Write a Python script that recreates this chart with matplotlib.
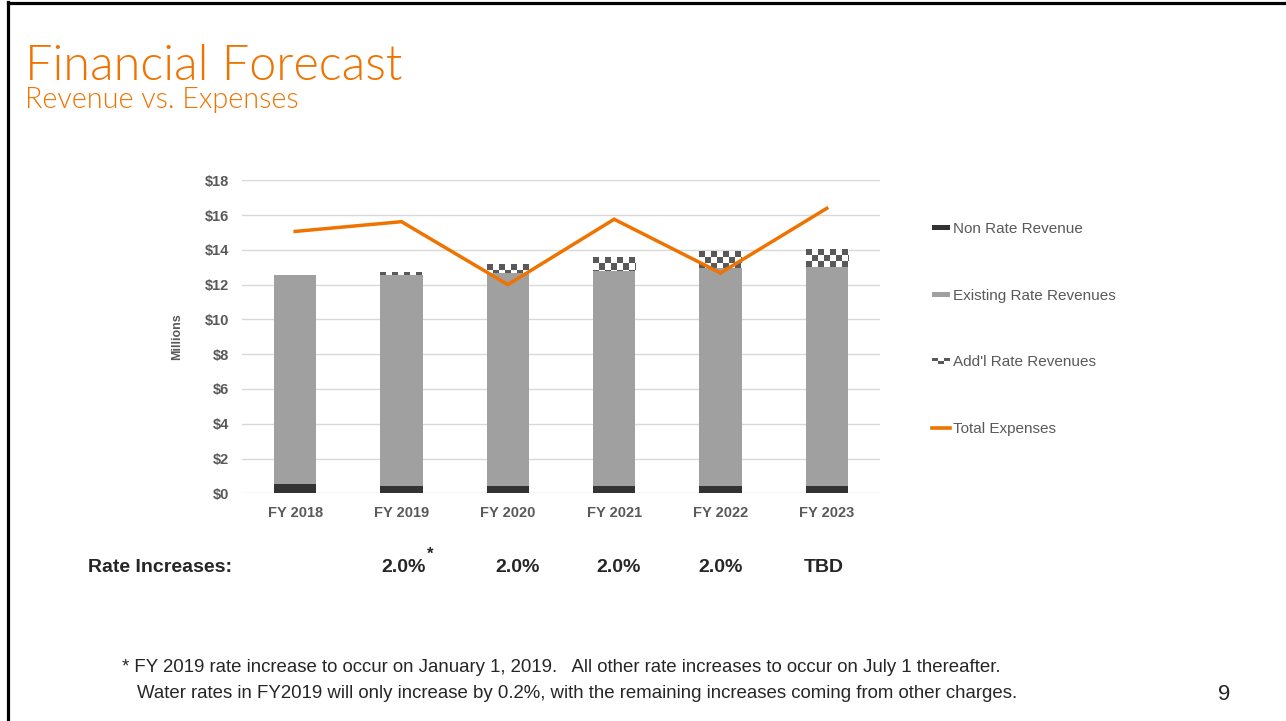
import math
import numpy as np
import matplotlib
matplotlib.use("Agg")
import matplotlib.pyplot as plt
from matplotlib.patches import Rectangle, Patch
from matplotlib.lines import Line2D
from matplotlib.legend_handler import HandlerBase

# ---- data (millions of dollars) ----
fiscal_years = ["FY 2018", "FY 2019", "FY 2020", "FY 2021", "FY 2022", "FY 2023"]
non_rate_revenue = [0.53, 0.42, 0.40, 0.40, 0.40, 0.40]
existing_rate_revenue = [12.04, 12.13, 12.28, 12.40, 12.55, 12.63]
addl_rate_revenue = [0.00, 0.15, 0.50, 0.77, 0.96, 1.02]
total_expenses = [15.06, 15.62, 12.00, 15.76, 12.67, 16.39]
rate_increases = ["", "2.0%", "2.0%", "2.0%", "2.0%", "TBD"]
y_ticks = [0, 2, 4, 6, 8, 10, 12, 14, 16, 18]

ORANGE = "#EF7300"
DARK = "#333333"
GREY = "#A0A0A0"
CHECK = "#595959"
TICK_COL = "#595959"
TEXT_COL = "#262626"

plt.rcParams["font.family"] = ["Liberation Sans", "DejaVu Sans"]

W, H = 1286, 721
fig = plt.figure(figsize=(W / 100, H / 100), dpi=100)
fig.patch.set_facecolor("white")

# slide frame (top and left edges)
fig.add_artist(Line2D([7.5 / W, 1.0], [1 - 2.5 / H, 1 - 2.5 / H], color="black", lw=2.3,
                      transform=fig.transFigure))
fig.add_artist(Line2D([7.5 / W, 7.5 / W], [0, 1 - 1.5 / H], color="black", lw=2.3,
                      transform=fig.transFigure))

# headings
fig.text(25 / W, 1 - 80 / H, "Financial Forecast", color=ORANGE, fontsize=35,
         family=["Lato", "DejaVu Sans"], fontweight=300, va="baseline", ha="left")
fig.text(25 / W, 1 - 108 / H, "Revenue vs. Expenses", color=ORANGE, fontsize=20.7,
         family=["Lato", "DejaVu Sans"], fontweight=300, va="baseline", ha="left")

# chart area
ax = fig.add_axes([242 / W, 1 - 493.3 / H, (880 - 242) / W, (493.3 - 180.3) / H])
x = np.arange(len(fiscal_years))
bw = 0.4

non = np.array(non_rate_revenue)
exi = np.array(existing_rate_revenue)
add = np.array(addl_rate_revenue)

ax.bar(x, non, bw, color=DARK, zorder=2)
ax.bar(x, exi, bw, bottom=non, color=GREY, zorder=2)
add_bars = ax.bar(x, add, bw, bottom=non + exi, color="white", zorder=2)
ax.plot(x, total_expenses, color=ORANGE, lw=2.5, zorder=4, solid_joinstyle="miter")

ax.set_xlim(-0.5, len(fiscal_years) - 0.5)
ax.set_ylim(0, 18)
ax.set_yticks(y_ticks)
ax.set_yticklabels([f"${v}" for v in y_ticks])
ax.set_xticks(x)
ax.set_xticklabels(fiscal_years)
for s in ax.spines.values():
    s.set_visible(False)
ax.yaxis.grid(True, color="#D9D9D9", lw=1.0, zorder=0)
ax.set_axisbelow(True)
ax.tick_params(length=0, labelsize=10.5, labelcolor=TICK_COL)
ax.tick_params(axis="y", pad=9)
ax.tick_params(axis="x", pad=9.5)
for lab in ax.get_xticklabels() + ax.get_yticklabels():
    lab.set_fontweight("bold")
ax.set_ylabel("Millions", fontsize=9, fontweight="bold", color=TICK_COL, labelpad=16)

# checkerboard texture on the additional-rate segments
fig.canvas.draw()
px_per_x = ax.bbox.width / (ax.get_xlim()[1] - ax.get_xlim()[0])
px_per_y = ax.bbox.height / (ax.get_ylim()[1] - ax.get_ylim()[0])
cell = 6.0
dark_rgb = np.array(matplotlib.colors.to_rgb(CHECK))
for p in add_bars.patches:
    h = p.get_height()
    if h <= 0:
        continue
    x0, y1 = p.get_x(), p.get_y() + h
    ncols = int(math.ceil(p.get_width() * px_per_x / cell))
    nrows = int(math.ceil(h * px_per_y / cell))
    ii, jj = np.indices((nrows, ncols))
    mask = ((ii + jj) % 2 == 0)
    img = np.ones((nrows, ncols, 3))
    img[mask] = dark_rgb
    cw, ch = cell / px_per_x, cell / px_per_y
    im = ax.imshow(img, extent=(x0, x0 + ncols * cw, y1 - nrows * ch, y1),
                   interpolation="nearest", aspect="auto", zorder=3)
    im.set_clip_path(p)
ax.set_xlim(-0.5, len(fiscal_years) - 0.5)
ax.set_ylim(0, 18)


class CheckerHandler(HandlerBase):
    def create_artists(self, legend, orig_handle, xdescent, ydescent, width, height,
                       fontsize, trans):
        arts = []
        hh = height * 0.5
        y0 = -ydescent + (height - hh) / 2
        n = 3
        cw = width / n
        arts.append(Rectangle((-xdescent, y0), width, hh, facecolor="white",
                              edgecolor="none", transform=trans))
        for k in range(n):
            yy = y0 + hh / 2 if k % 2 == 0 else y0
            arts.append(Rectangle((-xdescent + k * cw, yy), cw, hh / 2, facecolor=CHECK,
                                  edgecolor="none", transform=trans))
        return arts


class BarHandler(HandlerBase):
    def create_artists(self, legend, orig_handle, xdescent, ydescent, width, height,
                       fontsize, trans):
        hh = height * 0.5
        y0 = -ydescent + (height - hh) / 2
        return [Rectangle((-xdescent, y0), width, hh, facecolor=orig_handle.get_facecolor(),
                          edgecolor="none", transform=trans)]


addl_handle = Patch(facecolor="white")
handles = [Patch(facecolor=DARK), Patch(facecolor=GREY), addl_handle,
           Line2D([], [], color=ORANGE, lw=2.6)]
labels = ["Non Rate Revenue", "Existing Rate Revenues", "Add'l Rate Revenues", "Total Expenses"]
leg = fig.legend(handles, labels, loc="upper left", bbox_to_anchor=(932 / W, 1 - 222 / H),
                 frameon=False, fontsize=11, labelcolor=TICK_COL, handlelength=1.2,
                 handletextpad=0.2, labelspacing=3.45, borderaxespad=0, borderpad=0,
                 handler_map={Patch: BarHandler(), addl_handle: CheckerHandler()})

# rate increase row
row_y = 1 - 567 / H
fig.text(88 / W, row_y, "Rate Increases:", fontsize=14, fontweight="bold",
         color=TEXT_COL, ha="left", va="center")
rate_x = [None, 404, 518, 619, 721, 824]
for lab, px in zip(rate_increases, rate_x):
    if lab:
        fig.text(px / W, row_y, lab, fontsize=14, fontweight="bold",
                 color=TEXT_COL, ha="center", va="center")
fig.text(430 / W, 1 - 554 / H, "*", fontsize=12, fontweight="bold",
         color=TEXT_COL, ha="center", va="center")

# footnote
fig.text(122 / W, 1 - 667 / H,
         "* FY 2019 rate increase to occur on January 1, 2019.   All other rate increases to occur on July 1 thereafter.",
         fontsize=13.4, color=TEXT_COL, ha="left", va="center")
fig.text(137 / W, 1 - 693 / H,
         "Water rates in FY2019 will only increase by 0.2%, with the remaining increases coming from other charges.",
         fontsize=13.4, color=TEXT_COL, ha="left", va="center")

# page number
fig.text(1224 / W, 1 - 695 / H, "9", fontsize=16, color=TEXT_COL, ha="center", va="center")

fig.savefig("out.png", dpi=100, facecolor="white")
